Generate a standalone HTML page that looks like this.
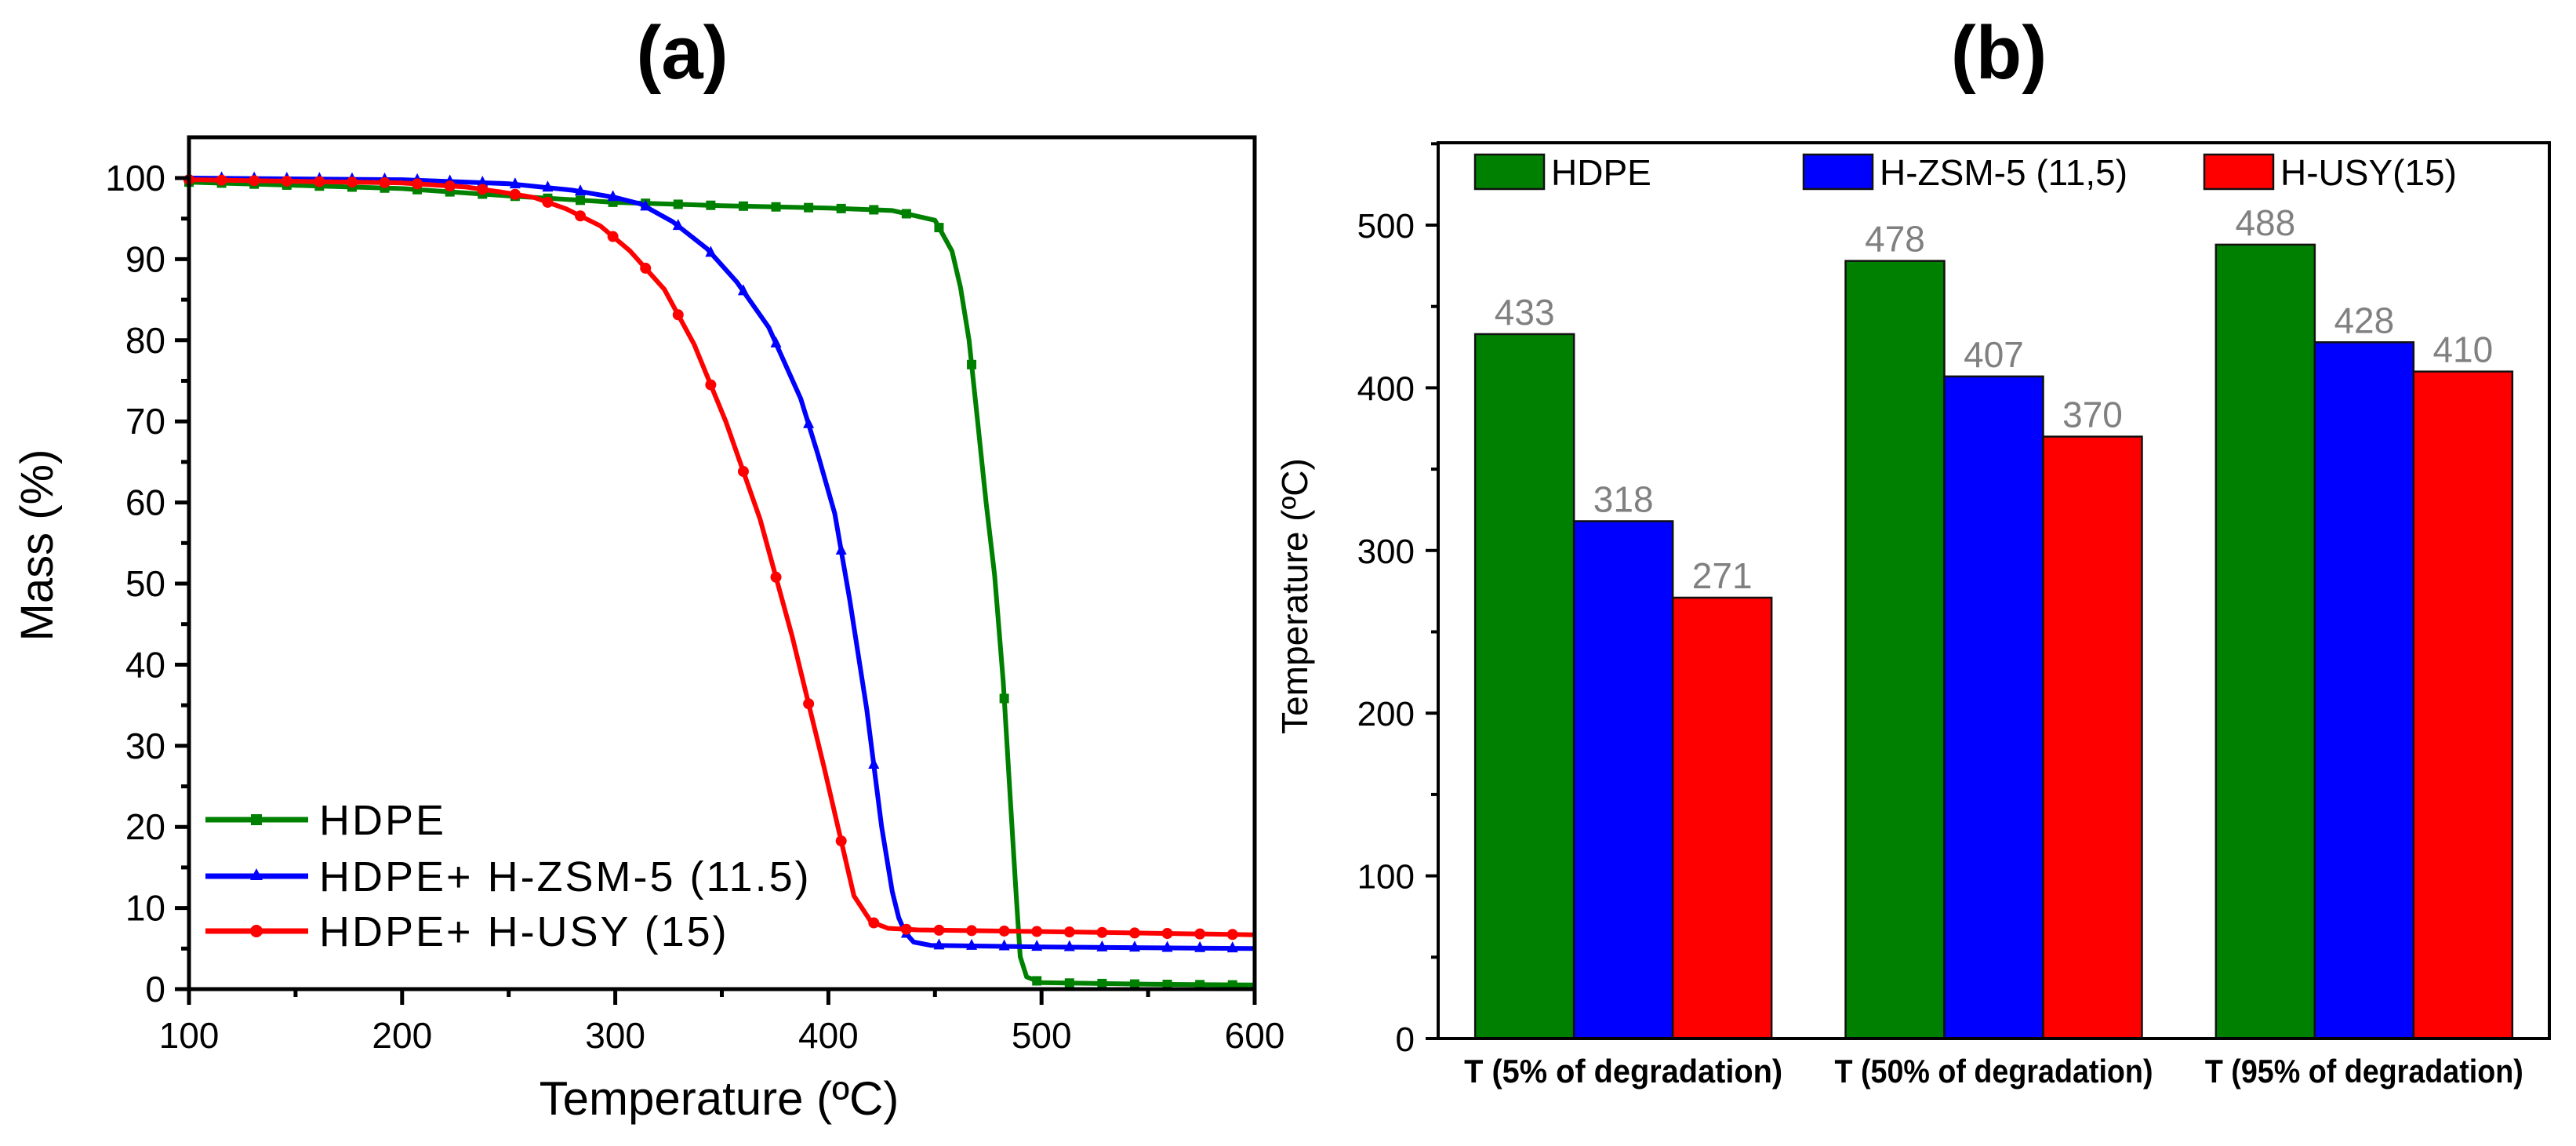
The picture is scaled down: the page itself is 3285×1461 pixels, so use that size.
<!DOCTYPE html>
<html><head><meta charset="utf-8"><style>html,body{margin:0;padding:0;background:#fff}svg{display:block}text{font-family:"Liberation Sans",sans-serif}</style></head>
<body>
<svg id="fig" width="3285" height="1461" viewBox="0 0 3285 1461" xmlns="http://www.w3.org/2000/svg">
<g id="chartA"></g>
<g id="chartB"></g>
</svg>
<script>
// ---- Chart (a) data ----
const hdpeT = [100,150,200,250,300,350,400,430,450,458,462,466,470,474,478,482,485,488,490,493,500,550,600];
const hdpeM = [99.5,99.1,98.7,97.8,97.0,96.6,96.3,96.0,94.8,91,86.5,80,70,60,51,38,25,12,4,1.5,0.8,0.6,0.5];
const zsmT = [100,200,250,280,300,312,327,343,357,372,387,395,403,410,418,425,430,433,436,440,448,500,600];
const zsmM = [100,99.8,99.3,98.5,97.6,96.8,94.6,91.3,87.2,81.6,72.8,66,58.6,48,34.5,20,12,8.8,7,5.8,5.4,5.2,5.0];
const usyT = [100,200,230,246,262,277,293,307,323,337,352,368,383,398,412,420,428,442,500,600];
const usyM = [99.8,99.4,98.9,98.3,97.6,96.2,94.1,91.0,86.3,79.5,69.9,57.9,43.5,27.3,11.5,8.3,7.5,7.3,7.1,6.7];
const xTicksA = [100,200,300,400,500,600];
const yTicksA = [0,10,20,30,40,50,60,70,80,90,100];
const seriesNames = ["HDPE","HDPE+ H-ZSM-5 (11.5)","HDPE+ H-USY (15)"];
// ---- Chart (b) data ----
const categories = ["T (5% of degradation)","T (50% of degradation)","T (95% of degradation)"];
const barHDPE = [433,478,488];
const barZSM = [318,407,428];
const barUSY = [271,370,410];
const yTicksB = [0,100,200,300,400,500];
const barLegend = ["HDPE","H-ZSM-5 (11,5)","H-USY(15)"];

const NS="http://www.w3.org/2000/svg";
function mk(parent,tag,attrs,txt){const e=document.createElementNS(NS,tag);for(const k in attrs)e.setAttribute(k,attrs[k]);if(txt!==undefined)e.textContent=txt;parent.appendChild(e);return e;}

// ===== Chart A =====
const A=document.getElementById('chartA');
const aL=241,aR=1600,aT=175,aB=1261;
const ax=v=>aL+(v-100)/500*(aR-aL);
const ay=v=>aB-v/103*(aB-aT-0)*1.0;
// calibrate: y=100 at 227
const ayc=v=>aB-v*(aB-227)/100;
let t=mk(A,'text',{x:870,y:100,'font-size':96,'font-weight':'bold','text-anchor':'middle'},'(a)');


const cols=['#008000','#0000ff','#ff0000'];
const sets=[[hdpeT,hdpeM],[zsmT,zsmM],[usyT,usyM]];
sets.forEach((s,i)=>{
  const pts=s[0].map((v,j)=>ax(v).toFixed(1)+','+ayc(s[1][j]).toFixed(1)).join(' ');
  const pl=mk(A,'polyline',{points:pts,fill:'none',stroke:cols[i],'stroke-width':6,'stroke-linejoin':'round'});
  
  
  // markers every 15.3 °C via interpolation along the data
  for(let x=100+i*0;x<=600;x+=15.3){
    let k=0;while(k<s[0].length-2&&s[0][k+1]<x)k++;
    const f=(x-s[0][k])/(s[0][k+1]-s[0][k]);const m=s[1][k]+f*(s[1][k+1]-s[1][k]);
    const cx=ax(x),cy=ayc(m);
    let mark;
    if(i===0)mark=mk(A,'rect',{x:cx-6,y:cy-6,width:12,height:12,fill:cols[i]});
    else if(i===1)mark=mk(A,'polygon',{points:`${cx},${cy-9} ${cx-7},${cy+5} ${cx+7},${cy+5}`,fill:cols[i]});
    else mark=mk(A,'circle',{cx:cx,cy:cy,r:7,fill:cols[i]});
    
    
  }
});
mk(A,'rect',{x:aL,y:aT,width:aR-aL,height:aB-aT,fill:'none',stroke:'#000','stroke-width':5});
for(let v=0;v<=100;v+=5){const y=ayc(v);mk(A,'line',{x1:aL,x2:aL-(v%10===0?18:10),y1:y,y2:y,stroke:'#000','stroke-width':5});}
yTicksA.forEach(v=>{const e=mk(A,'text',{x:aL-30,y:ayc(v)+16,'font-size':46,'text-anchor':'end'},String(v));});
for(let v=100;v<=600;v+=50){const x=ax(v);mk(A,'line',{x1:x,x2:x,y1:aB,y2:aB+(v%100===0?20:10),stroke:'#000','stroke-width':5});}
xTicksA.forEach(v=>{const e=mk(A,'text',{x:ax(v),y:1336,'font-size':46,'text-anchor':'middle'},String(v));});
t=mk(A,'text',{x:917,y:1421,'font-size':60,'text-anchor':'middle'},'Temperature (ºC)');


t=mk(A,'text',{x:0,y:0,'font-size':58,'text-anchor':'middle',transform:'translate(67,695) rotate(-90)'},'Mass (%)');


const legY=[1045,1117,1187];
seriesNames.forEach((n,i)=>{
  const g=mk(A,'g',{});
  
  
  mk(g,'line',{x1:262,x2:393,y1:legY[i],y2:legY[i],stroke:cols[i],'stroke-width':7});
  const cx=327,cy=legY[i];
  if(i===0)mk(g,'rect',{x:cx-7,y:cy-7,width:14,height:14,fill:cols[i]});
  else if(i===1)mk(g,'polygon',{points:`${cx},${cy-10} ${cx-8},${cy+5} ${cx+8},${cy+5}`,fill:cols[i]});
  else mk(g,'circle',{cx:cx,cy:cy,r:8,fill:cols[i]});
  mk(g,'text',{x:407,y:cy+19,'font-size':54,'letter-spacing':3},n);
});

// ===== Chart B =====
const B=document.getElementById('chartB');
const bL=1834,bR=3251,bT=182,bB=1324;
const by=v=>bB-v*(bB-287)/500;
const bx=c=>bL+(c+0.5)/3*(bR-bL);
const bw=126;
t=mk(B,'text',{x:2549,y:100,'font-size':96,'font-weight':'bold','text-anchor':'middle'},'(b)');


const bsets=[barHDPE,barZSM,barUSY];
const bnames=['hdpe','zsm5','usy'];
bsets.forEach((arr,s)=>{
  arr.forEach((v,c)=>{
    const x=bx(c)-1.5*bw+s*bw;
    const r=mk(B,'rect',{x:x,y:by(v),width:bw,height:by(0)-by(v),fill:cols[s],stroke:'#111','stroke-width':2.5});
    
    
    const l=mk(B,'text',{x:x+bw/2,y:by(v)-12,'font-size':46,fill:'#808080','text-anchor':'middle'},String(v));
    
    
  });
});
mk(B,'rect',{x:bL,y:bT,width:bR-bL,height:bB-bT,fill:'none',stroke:'#000','stroke-width':4});
for(let v=0;v<=550;v+=50){const y=by(v);mk(B,'line',{x1:bL,x2:bL-(v%100===0?16:9),y1:y,y2:y,stroke:'#000','stroke-width':4});}
yTicksB.forEach(v=>{const e=mk(B,'text',{x:bL-30,y:by(v)+16,'font-size':44,'text-anchor':'end'},String(v));});
categories.forEach((n,c)=>{const e=mk(B,'text',{x:bx(c),y:1380,'font-size':42,'font-weight':'bold','text-anchor':'middle',textLength:406,lengthAdjust:'spacingAndGlyphs'},n);});
t=mk(B,'text',{x:0,y:0,'font-size':46,'text-anchor':'middle',transform:'translate(1667,760) rotate(-90)'},'Temperature (ºC)');


const lgX=[1881,2300,2811];
barLegend.forEach((n,i)=>{
  const g=mk(B,'g',{});
  
  
  mk(g,'rect',{x:lgX[i],y:197,width:88,height:44,fill:cols[i],stroke:'#111','stroke-width':2.5});
  mk(g,'text',{x:lgX[i]+97,y:236,'font-size':46},n);
});
</script>
</body></html>
